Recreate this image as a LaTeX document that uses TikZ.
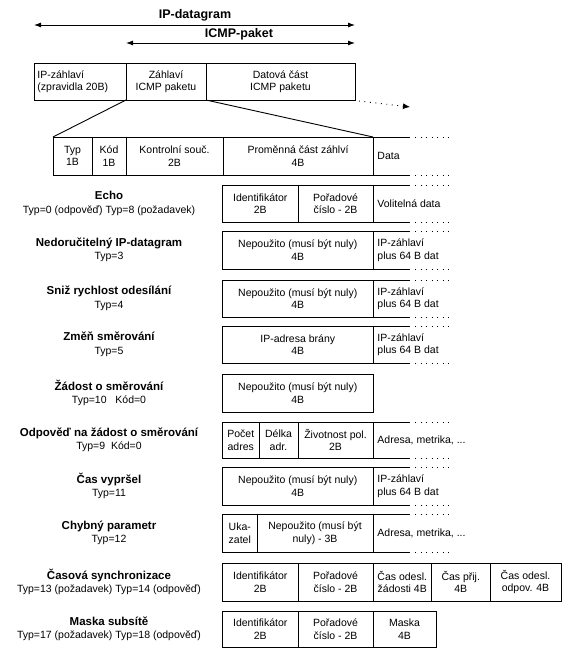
\documentclass[tikz,border=0pt]{standalone}
\usepackage{fontspec}
\setmainfont{Liberation Sans}
\usetikzlibrary{calc, positioning}
\usetikzlibrary{arrows.meta}

\tikzset{
  cell/.style={font=\fontsize{10.5}{12.5}\selectfont, align=center, inner sep=0pt},
  lcell/.style={cell, align=left, anchor=west},
  rowtitle/.style={font=\fontsize{10.5}{13.5}\selectfont, align=center, inner sep=0pt},
  bigtitle/.style={font=\fontsize{12.5}{14}\selectfont\bfseries, inner sep=0pt},
  dots/.style={dash pattern=on 0.9pt off 4.6pt},
  span/.style={{Latex[length=7pt,width=5pt]}-{Latex[length=7pt,width=5pt]}},
}

% one closed field of a message: name, left, right, top, bottom, text
\newcommand{\fieldbox}[6]{%
  \draw (#2,#4) rectangle (#3,#5);
  \node[cell] (#1) at ({(#2+#3)/2},{(#4+#5)/2}) {#6};}
% open field on the right side, fading out in dots: name, top, bottom, text
\newcommand{\openfield}[4]{%
  \draw (\xR,#2) -- (\xS,#2) (\xR,#3) -- (\xS,#3);
  \draw[dots] (\xS+5,#2) -- (\xE,#2) (\xS+5,#3) -- (\xE,#3);
  \node[lcell] (#1) at (\xR+4,{(#2+#3)/2}) {#4};}

\begin{document}
\begin{tikzpicture}[x=1pt,y=-1pt,line width=0.9pt]
\useasboundingbox (0,0) rectangle (571,655);
\def\xL{222.5}
\def\xM{298}
\def\xR{373}
\def\xS{410}
\def\xE{450}
\def\xT{109}

% IP datagram and ICMP packet
\coordinate (dgL) at (34,25);
\coordinate (dgR) at (355,25);
\coordinate (paL) at (126,43);
\coordinate (paR) at (355,43);
\draw[span] (dgL) -- (dgR);
\draw[span] (paL) -- (paR);
\node[bigtitle] (dgtitle) at (195,15) {IP-datagram};
\node[bigtitle] (patitle) at (239,34) {ICMP-paket};

\draw (34,63) rectangle (126,100);
\node[lcell] (iphdr) at (37,81.5) {IP-záhlaví\\(zpravidla 20B)};
\fieldbox{icmphdr}{126}{206}{63}{100}{Záhlaví\\ICMP paketu}
\fieldbox{icmpdata}{206}{355}{63}{100}{Datová část\\ICMP paketu}

\coordinate (moreS) at (359,101);
\coordinate (moreE) at (410,107);
\draw[dots, -{Latex[length=7pt,width=6pt]}] (moreS) -- (moreE);

% ICMP header
\coordinate (hdrA) at (126,100);
\coordinate (hdrB) at (206,100);
\coordinate (hdrC) at (53,137);
\coordinate (hdrD) at (373,137);
\draw (hdrA) -- (hdrC);
\draw (hdrB) -- (hdrD);
\fieldbox{htyp}{53}{92}{137}{175}{Typ\\1B}
\fieldbox{hkod}{92}{126}{137}{175}{Kód\\1B}
\fieldbox{hsum}{126}{223}{137}{175}{Kontrolní souč.\\2B}
\fieldbox{hvar}{223}{\xR}{137}{175}{Proměnná část záhlví\\4B}
\openfield{hdata}{137}{175}{Data}

% message types
\fieldbox{echoid}{\xL}{\xM}{185}{222}{Identifikátor\\2B}
\fieldbox{echoseq}{\xM}{\xR}{185}{222}{Pořadové\\číslo - 2B}
\openfield{echodata}{185}{222}{Volitelná data}

\fieldbox{unrfree}{\xL}{\xR}{231}{269}{Nepoužito (musí být nuly)\\4B}
\openfield{unrdata}{231}{269}{IP-záhlaví\\plus 64 B dat}

\fieldbox{srcfree}{\xL}{\xR}{280}{317}{Nepoužito (musí být nuly)\\4B}
\openfield{srcdata}{280}{317}{IP-záhlaví\\plus 64 B dat}

\fieldbox{redgw}{\xL}{\xR}{326}{363}{IP-adresa brány\\4B}
\openfield{reddata}{326}{363}{IP-záhlaví\\plus 64 B dat}

\fieldbox{solfree}{\xL}{\xR}{374}{412}{Nepoužito (musí být nuly)\\4B}

\fieldbox{advnum}{\xL}{259}{422}{458}{Počet\\adres}
\fieldbox{advlen}{259}{\xM}{422}{458}{Délka\\adr.}
\fieldbox{advlife}{\xM}{\xR}{422}{458}{Životnost pol.\\2B}
\openfield{advdata}{422}{458}{Adresa, metrika, ...}

\fieldbox{ttlfree}{\xL}{\xR}{467}{505}{Nepoužito (musí být nuly)\\4B}
\openfield{ttldata}{467}{505}{IP-záhlaví\\plus 64 B dat}

\fieldbox{parptr}{\xL}{257}{514}{552}{Uka-\\zatel}
\fieldbox{parfree}{257}{\xR}{514}{552}{Nepoužito (musí být\\nuly) - 3B}
\openfield{pardata}{514}{552}{Adresa, metrika, ...}

\fieldbox{tsid}{\xL}{\xM}{563}{601}{Identifikátor\\2B}
\fieldbox{tsseq}{\xM}{\xR}{563}{601}{Pořadové\\číslo - 2B}
\fieldbox{tsorig}{\xR}{431.5}{563}{601}{Čas odesl.\\žádosti 4B}
\fieldbox{tsrecv}{431.5}{490}{563}{601}{Čas přij.\\4B}
\fieldbox{tsxmit}{490}{561}{563}{601}{Čas odesl.\\odpov. 4B}

\fieldbox{mskid}{\xL}{\xM}{611}{647}{Identifikátor\\2B}
\fieldbox{mskseq}{\xM}{\xR}{611}{647}{Pořadové\\číslo - 2B}
\fieldbox{mskval}{\xR}{436}{611}{647}{Maska\\4B}

\foreach \nm/\top/\bot/\ttl/\sub in {
  echo/185/222/Echo/Typ=0 (odpověď) Typ=8 (požadavek),
  unr/231/269/Nedoručitelný IP-datagram/Typ=3,
  src/280/317/Sniž rychlost odesílání/Typ=4,
  red/326/363/Změň směrování/Typ=5,
  sol/374/412/Žádost o směrování/Typ=10\ \ \ Kód=0,
  adv/422/458/Odpověď na žádost o směrování/Typ=9\ \ Kód=0,
  ttl/467/505/Čas vypršel/Typ=11,
  par/514/552/Chybný parametr/Typ=12,
  ts/563/601/Časová synchronizace/Typ=13 (požadavek) Typ=14 (odpověď),
  msk/611/647/Maska subsítě/Typ=17 (požadavek) Typ=18 (odpověď)} {
  \node[rowtitle] (\nm label) at (\xT,{(\top+\bot)/2})
    {{\fontsize{11.5}{13.5}\selectfont\bfseries \ttl}\\\sub};
}

\end{tikzpicture}
\end{document}
